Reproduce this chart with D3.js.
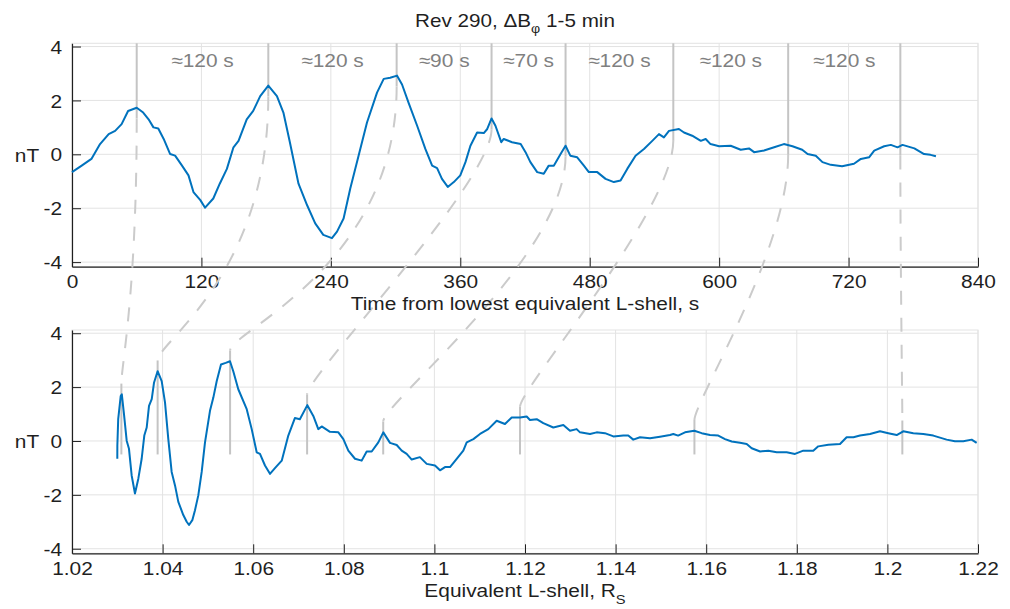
<!DOCTYPE html>
<html>
<head>
<meta charset="utf-8">
<script src="https://cdn.jsdelivr.net/npm/d3@7"></script>
<style>
  body { margin: 0; background: #fff; }
  svg { display: block; font-family: "Liberation Sans", Arial, sans-serif; }
</style>
</head>
<body>
<svg id="chart" width="1010" height="609"></svg>
<script>
// ---- data ----
// top panel: time from lowest equivalent L-shell (s) vs dB_phi (nT)
const topTime = [
  0, 9, 18, 26, 34, 40, 46, 52, 60, 66,
  71, 75.5, 80, 85, 91, 95.6, 102, 108, 112.6, 119,
  123.4, 131, 137, 143.6, 149.7, 154.4, 162, 168, 174.5, 182,
  190, 196, 202, 210, 218, 225.5, 233, 241, 245.7, 251.8,
  258, 265.7, 273.5, 282.8, 289, 295, 301.4, 306, 312, 320,
  327.6, 333.9, 338.5, 343, 348.4, 354, 360, 364.8, 369.4, 375.6,
  381.8, 385, 389, 392.6, 398, 400.3, 408, 416, 420.5, 425,
  431.3, 437.4, 442, 446.7, 453, 457.6, 462, 468.4, 474.6, 479.2,
  487, 494.7, 502.4, 508.6, 514.8, 522.5, 530.3, 538, 544.2, 548.8,
  553.5, 562.7, 567.4, 575, 583, 587.5, 592, 600, 610.7, 620,
  627.7, 632.4, 641.6, 651, 660, 668, 677, 682, 689.6, 695.8,
  703.5, 714, 725, 731.4, 739, 743.8, 753, 759.2, 765.4, 770,
  781, 790, 796, 801
];
const topNT = [
  -0.66, -0.42, -0.17, 0.38, 0.75, 0.87, 1.12, 1.61, 1.73, 1.55,
  1.30, 1.00, 0.96, 0.57, 0.01, -0.05, -0.42, -0.78, -1.40, -1.70,
  -1.98, -1.64, -1.09, -0.54, 0.26, 0.50, 1.30, 1.61, 2.16, 2.55,
  2.16, 1.55, 0.45, -1.09, -1.89, -2.56, -2.99, -3.11, -2.87, -2.38,
  -1.27, -0.05, 1.18, 2.29, 2.80, 2.84, 2.92, 2.59, 1.92, 1.06,
  0.20, -0.42, -0.51, -0.91, -1.21, -1.03, -0.78, -0.29, 0.32, 0.81,
  0.79, 0.94, 1.33, 1.06, 0.45, 0.57, 0.45, 0.38, 0.08, -0.29,
  -0.66, -0.72, -0.42, -0.42, 0.01, 0.32, -0.05, -0.11, -0.42, -0.66,
  -0.66, -0.91, -1.03, -0.97, -0.54, -0.05, 0.20, 0.50, 0.75, 0.63,
  0.87, 0.94, 0.81, 0.69, 0.50, 0.57, 0.38, 0.30, 0.32, 0.17,
  0.22, 0.08, 0.14, 0.26, 0.38, 0.30, 0.17, 0.01, -0.05, -0.29,
  -0.39, -0.44, -0.35, -0.17, -0.11, 0.14, 0.30, 0.35, 0.26, 0.35,
  0.22, 0.01, -0.02, -0.07
];

// bottom panel: equivalent L-shell (R_S) vs dB_phi (nT)
const lShell = [
  1.0300, 1.03001, 1.0302, 1.03075, 1.0310, 1.03148, 1.03207, 1.03258, 1.03317, 1.0339,
  1.03464, 1.03538, 1.03596, 1.03649, 1.0370, 1.0376, 1.0381, 1.0389, 1.0398, 1.04053,
  1.04126, 1.0420, 1.04274, 1.04347, 1.04457, 1.04532, 1.04583, 1.04656, 1.04715, 1.04788,
  1.04863, 1.04936, 1.05046, 1.0512, 1.05194, 1.05289, 1.05393, 1.05488, 1.0556, 1.05671,
  1.05857, 1.05967, 1.06077, 1.0615, 1.0626, 1.0637, 1.0648, 1.0663, 1.06775, 1.0692,
  1.0703, 1.07195, 1.07327, 1.07437, 1.07512, 1.07695, 1.0788, 1.0799, 1.081, 1.08247,
  1.08395, 1.08505, 1.08616, 1.08762, 1.08872, 1.0902, 1.09168, 1.09278, 1.09388, 1.09499,
  1.0968, 1.0983, 1.10013, 1.10124, 1.10234, 1.10345, 1.10492, 1.10638, 1.10713, 1.1086,
  1.11007, 1.1119, 1.11375, 1.11558, 1.11706, 1.1189, 1.12037, 1.1211, 1.12258, 1.12404,
  1.12625, 1.12846, 1.12993, 1.1314, 1.13214, 1.13435, 1.13582, 1.13766, 1.1395, 1.1417,
  1.1428, 1.1439, 1.14539, 1.1476, 1.1498, 1.152, 1.15274, 1.1538, 1.15532, 1.15737,
  1.159, 1.16084, 1.16267, 1.16415, 1.16563, 1.16746, 1.16894, 1.17004, 1.1719, 1.17372,
  1.17556, 1.17776, 1.1796, 1.18143, 1.18364, 1.18474, 1.18696, 1.18954, 1.191, 1.1925,
  1.19395, 1.19616, 1.19837, 1.2002, 1.20205, 1.2035, 1.20572, 1.20792, 1.21013, 1.21307,
  1.2149, 1.21675, 1.2186, 1.2197
];
const lShellNT = [
  -0.66, -0.17, 0.81, 1.67, 1.73, 0.99, 0.01, -0.29, -1.28, -1.95,
  -1.40, -0.66, 0.20, 0.50, 1.30, 1.55, 2.16, 2.59, 2.22, 1.43,
  0.07, -1.15, -1.65, -2.26, -2.75, -3.00, -3.12, -2.94, -2.57, -2.02,
  -1.15, -0.05, 1.12, 1.61, 2.22, 2.84, 2.90, 2.96, 2.59, 1.92,
  1.18, 0.44, -0.42, -0.48, -0.91, -1.22, -1.01, -0.73, 0.20, 0.85,
  0.81, 1.33, 0.93, 0.44, 0.54, 0.34, 0.32, 0.07, -0.36, -0.66,
  -0.73, -0.39, -0.39, -0.05, 0.32, -0.07, -0.15, -0.36, -0.48, -0.69,
  -0.60, -0.85, -0.91, -1.09, -0.97, -0.97, -0.66, -0.36, -0.05, 0.07,
  0.26, 0.44, 0.75, 0.63, 0.87, 0.87, 0.91, 0.78, 0.81, 0.66,
  0.50, 0.59, 0.38, 0.44, 0.32, 0.26, 0.32, 0.29, 0.17, 0.20,
  0.20, 0.05, 0.14, 0.10, 0.16, 0.22, 0.26, 0.20, 0.32, 0.38,
  0.29, 0.22, 0.20, 0.07, -0.02, -0.07, -0.11, -0.27, -0.39, -0.36,
  -0.42, -0.42, -0.48, -0.36, -0.36, -0.20, -0.14, -0.11, 0.14, 0.14,
  0.20, 0.26, 0.36, 0.29, 0.22, 0.36, 0.29, 0.26, 0.20, 0.05,
  -0.01, -0.01, 0.05, -0.07
];

// matched peaks: time in top panel, L-shell in bottom panel
const peakTime = [60, 182, 301, 389, 457.6, 557.5, 664, 768];
const peakNT = [1.73, 2.55, 2.92, 1.33, 0.32, 0.90, 0.38, 0.35];
const peakL = [1.0309, 1.0389, 1.0549, 1.0719, 1.0887, 1.1189, 1.1574, 1.2033];
const peakLNT = [1.73, 2.59, 2.96, 1.33, 0.32, 0.87, 0.38, 0.36];
const gapLabels = ["≈120 s", "≈120 s", "≈90 s", "≈70 s", "≈120 s", "≈120 s", "≈120 s"];

const timeTicks = [0, 120, 240, 360, 480, 600, 720, 840];
const lTicks = [1.02, 1.04, 1.06, 1.08, 1.1, 1.12, 1.14, 1.16, 1.18, 1.2, 1.22];
const nTTicks = [-4, -2, 0, 2, 4];

// ---- layout ----
const svg = d3.select("#chart");
const sx = 1.13;          // reference text is a bit wider than Liberation Sans
const fontSize = 18.5;
const axisCol = "#1f1f1f";
const gridCol = "#e3e3e3";
const markCol = "#c4c4c4";
const lineCol = "#0072bd";

const xTime = d3.scaleLinear().domain([0, 840]).range([72, 978]);
const xL = d3.scaleLinear().domain([1.02, 1.22]).range([72, 978]);
const yTop = d3.scaleLinear().domain([-4.17, 4.12]).range([266.7, 43.3]);
const yBot = d3.scaleLinear().domain([-4.17, 4.12]).range([553.3, 330]);

function scaledText(g, x, y, anchor) {
  return g.append("text")
    .attr("transform", `translate(${x},${y}) scale(${sx},1)`)
    .attr("text-anchor", anchor)
    .style("font-size", fontSize + "px")
    .style("fill", axisCol);
}

function drawPanel(xScale, yScale, xTicks, fmt) {
  const [x0, x1] = xScale.range();
  const [y1, y0] = yScale.range();
  const g = svg.append("g");

  // grid + light box edges
  g.selectAll("line.vgrid").data(xTicks).enter().append("line")
    .attr("x1", (d) => xScale(d)).attr("x2", (d) => xScale(d))
    .attr("y1", y0).attr("y2", y1)
    .style("stroke", gridCol).style("stroke-width", 1);
  g.selectAll("line.hgrid").data(nTTicks).enter().append("line")
    .attr("x1", x0).attr("x2", x1)
    .attr("y1", (d) => yScale(d)).attr("y2", (d) => yScale(d))
    .style("stroke", gridCol).style("stroke-width", 1);
  g.append("rect")
    .attr("x", x0).attr("y", y0).attr("width", x1 - x0).attr("height", y1 - y0)
    .style("fill", "none").style("stroke", gridCol);

  const xAxis = d3.axisBottom(xScale).tickValues(xTicks).tickFormat(fmt)
    .tickSizeInner(-9).tickSizeOuter(0).tickPadding(8.6);
  const yAxis = d3.axisLeft(yScale).tickValues(nTTicks).tickFormat((d) => String(d))
    .tickSizeInner(-9).tickSizeOuter(0).tickPadding(8.8);

  const xAxisG = svg.append("g").attr("class", "axis")
    .attr("transform", `translate(0 ${y1})`).call(xAxis);
  const yAxisG = svg.append("g").attr("class", "axis")
    .attr("transform", `translate(${x0} 0)`).call(yAxis);

  [xAxisG, yAxisG].forEach((a) => {
    a.select("path.domain").style("stroke", axisCol).style("stroke-width", 1.2);
    a.selectAll("line").style("stroke", axisCol).style("stroke-width", 1);
    a.selectAll("text")
      .attr("transform", `scale(${sx},1)`)
      .style("font-family", "'Liberation Sans', Arial, sans-serif")
      .style("font-size", fontSize + "px")
      .style("fill", axisCol);
  });
  yAxisG.selectAll("text").attr("dy", "0.36em");

  scaledText(svg, 27, (y0 + y1) / 2 + 6.5, "middle").text("nT");
  return g;
}

const fmtL = (d) => String(+d.toFixed(2));
const topG = drawPanel(xTime, yTop, timeTicks, (d) => String(d));
const botG = drawPanel(xL, yBot, lTicks, fmtL);

// ---- peak markers ----
const marks = svg.append("g");
const bendA = [0.66, 0.68, 0.68, 0.2, 0.38, 0.26, 0.36, 0.4];
const bendB = 0.07;

peakTime.forEach((t, i) => {
  const xs = xTime(t);
  const ys = yTop(peakNT[i] - 0.4);
  const xe = xL(peakL[i]);
  const ye = yBot(peakLNT[i] + 0.4);

  marks.append("line")
    .attr("x1", xs).attr("x2", xs)
    .attr("y1", yTop(4.12)).attr("y2", ys)
    .style("stroke", markCol).style("stroke-width", 2);

  marks.append("line")
    .attr("x1", xe).attr("x2", xe)
    .attr("y1", ye).attr("y2", yBot(-0.5))
    .style("stroke", markCol).style("stroke-width", 2);

  const dy = ye - ys;
  const p = d3.path();
  p.moveTo(xs, ys);
  p.bezierCurveTo(xs, ys + bendA[i] * dy, xe, ye - bendB * dy, xe, ye);
  marks.append("path")
    .attr("d", p.toString())
    .style("fill", "none")
    .style("stroke", "#cbcbcb")
    .style("stroke-width", 2)
    .style("stroke-dasharray", "14 13");
});

// interval labels between markers
gapLabels.forEach((lab, i) => {
  const xm = (xTime(peakTime[i]) + xTime(peakTime[i + 1])) / 2;
  scaledText(marks, xm, 66.5, "middle").style("fill", "#808080").text(lab);
});

// ---- data lines ----
const topLine = d3.line().x((d, i) => xTime(topTime[i])).y((d) => yTop(d));
const botLine = d3.line().x((d, i) => xL(lShell[i])).y((d) => yBot(d));

svg.append("path").datum(topNT).attr("d", topLine)
  .style("fill", "none").style("stroke", lineCol).style("stroke-width", 2)
  .style("stroke-linejoin", "round");
svg.append("path").datum(lShellNT).attr("d", botLine)
  .style("fill", "none").style("stroke", lineCol).style("stroke-width", 2)
  .style("stroke-linejoin", "round");

// ---- titles ----
const title = scaledText(svg, 515, 26.5, "middle").style("font-size", "18.3px");
title.append("tspan").text("Rev 290, ΔB");
title.append("tspan").attr("dy", 6).style("font-size", "12.5px").text("φ");
title.append("tspan").attr("dy", -6).text(" 1-5 min");

scaledText(svg, 525, 309.5, "middle").text("Time from lowest equivalent L-shell, s");

const xl = scaledText(svg, 525, 597, "middle");
xl.append("tspan").text("Equivalent L-shell, R");
xl.append("tspan").attr("dy", 7).style("font-size", "13px").text("S");
</script>
</body>
</html>
